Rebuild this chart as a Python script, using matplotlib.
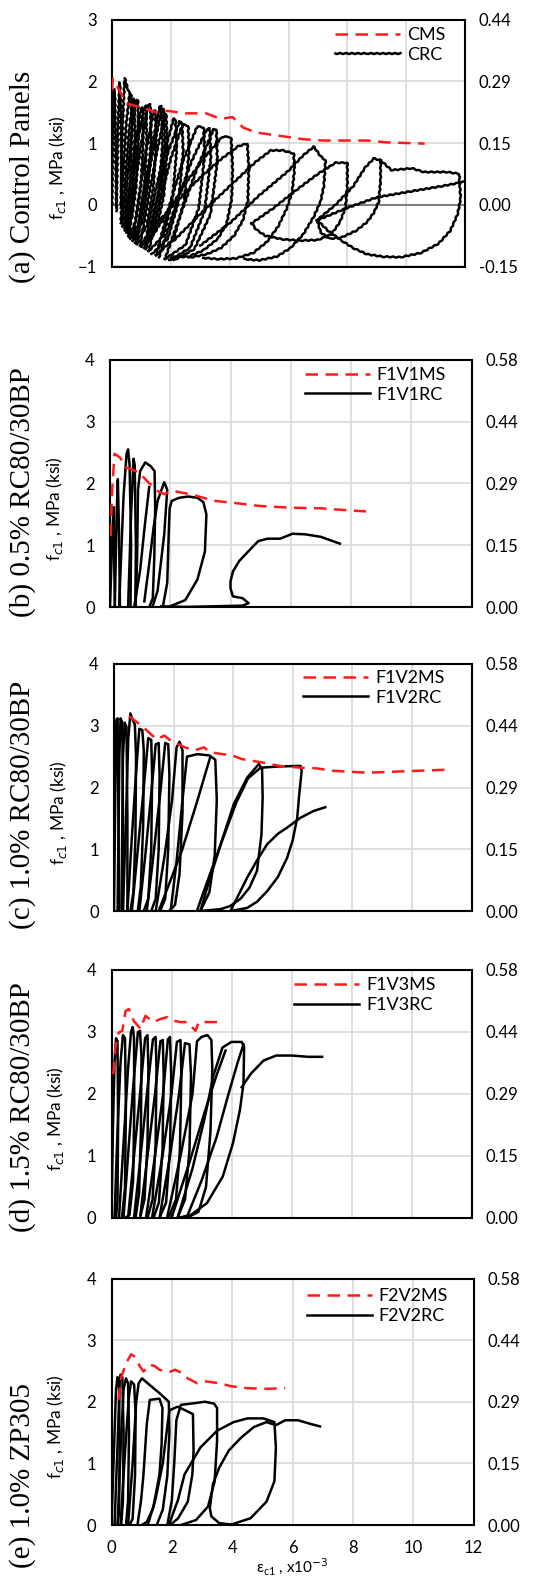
import numpy as np
import matplotlib
matplotlib.use('Agg')
import matplotlib.pyplot as plt

plt.rcParams['font.family'] = ['Lato', 'DejaVu Sans']

# axis ticks (strain in x10^-3, stress in MPa) and the ksi labels of the right axis
x_ticks = [0, 2, 4, 6, 8, 10, 12]
x_labels = ['0', '2', '4', '6', '8', '10', '12']
mpa_ticks_a = [-1, 0, 1, 2, 3]
ksi_labels_a = ['-0.15', '0.00', '0.15', '0.29', '0.44']
mpa_ticks = [0, 1, 2, 3, 4]
ksi_labels = ['0.00', '0.15', '0.29', '0.44', '0.58']

panel_titles = ['(a) Control Panels', '(b) 0.5% RC80/30BP', '(c) 1.0% RC80/30BP',
                '(d) 1.5% RC80/30BP', '(e) 1.0% ZP305']
ms_names = ['CMS', 'F1V1MS', 'F1V2MS', 'F1V3MS', 'F2V2MS']
rc_names = ['CRC', 'F1V1RC', 'F1V2RC', 'F1V3RC', 'F2V2RC']

# ---------------- (a) control panels ----------------
cms_x = [0.0, 0.03, 0.5, 0.96, 1.5, 1.9, 2.5, 3.2, 3.7, 4.1, 4.46, 4.9, 5.65, 6.52, 7.17,
         8.03, 8.68, 9.33, 10.63]
cms_y = [1.85, 2.04, 1.64, 1.58, 1.5, 1.52, 1.48, 1.48, 1.39, 1.42, 1.25, 1.17, 1.12, 1.06,
         1.04, 1.04, 1.04, 1.01, 0.99]

crc_loops = [
    [(0.0, 0.0), (0.03, 1.2), (0.07, 1.87), (0.1, 1.7), (0.13, 0.6), (0.15, -0.05), (0.17, -0.1)],
    [(0.15, -0.05), (0.2, 1.2), (0.26, 1.98), (0.3, 1.6), (0.32, 0.5), (0.33, -0.08)],
    [(0.3, -0.05), (0.36, 1.3), (0.43, 2.05), (0.55, 1.85), (0.66, 1.76)],
    [(0.3, -0.3), (0.38, 0.5), (0.48, 1.3), (0.6, 1.8), (0.66, 1.76), (0.68, 1.2), (0.62, 0.4),
     (0.52, -0.1), (0.42, -0.38)],
    [(0.35, -0.35), (0.45, 0.4), (0.58, 1.2), (0.72, 1.72), (0.76, 1.7), (0.78, 1.1), (0.7, 0.3),
     (0.58, -0.2), (0.45, -0.42)],
    [(0.42, -0.38), (0.52, 0.4), (0.66, 1.2), (0.82, 1.7), (0.88, 1.68), (0.9, 1.1), (0.82, 0.3),
     (0.68, -0.2), (0.5, -0.45)],
    [(0.5, -0.45), (0.62, 0.3), (0.8, 1.0), (0.98, 1.55), (1.04, 1.57), (1.06, 1.0), (0.98, 0.3),
     (0.82, -0.25), (0.58, -0.52)],
    [(0.55, -0.5), (0.7, 0.3), (0.9, 1.1), (1.1, 1.58), (1.16, 1.6), (1.18, 1.0), (1.1, 0.3),
     (0.92, -0.3), (0.62, -0.55)],
    [(0.58, -0.52), (0.75, 0.2), (0.98, 0.95), (1.22, 1.6), (1.3, 1.63), (1.33, 1.1), (1.24, 0.35),
     (1.05, -0.25), (0.7, -0.58)],
    [(0.7, -0.58), (0.9, 0.1), (1.15, 0.85), (1.42, 1.52), (1.47, 1.52), (1.5, 1.0), (1.4, 0.25),
     (1.18, -0.35), (0.8, -0.62)],
    [(0.8, -0.62), (1.02, 0.05), (1.32, 0.85), (1.62, 1.58), (1.68, 1.6), (1.72, 1.0), (1.6, 0.2),
     (1.35, -0.4), (0.95, -0.66)],
    [(0.85, -0.64), (1.1, 0.1), (1.4, 0.9), (1.7, 1.55), (1.76, 1.55), (1.8, 1.0), (1.68, 0.2),
     (1.42, -0.42), (1.0, -0.68)],
    [(0.95, -0.66), (1.2, 0.0), (1.5, 0.8), (1.8, 1.47), (1.84, 1.47), (1.88, 0.95), (1.76, 0.15),
     (1.5, -0.42), (1.1, -0.7)],
    [(1.1, -0.7), (1.38, 0.0), (1.75, 0.8), (2.1, 1.4), (2.16, 1.38), (2.2, 0.9), (2.06, 0.1),
     (1.75, -0.5), (1.25, -0.75)],
    [(1.15, -0.72), (1.5, 0.05), (1.9, 0.85), (2.3, 1.35), (2.38, 1.33), (2.42, 0.85), (2.26, 0.05),
     (1.9, -0.55), (1.35, -0.8)],
    [(1.25, -0.75), (1.6, 0.0), (2.0, 0.75), (2.4, 1.3), (2.59, 1.28), (2.62, 0.85), (2.45, 0.05),
     (2.1, -0.55), (1.5, -0.82)],
    [(1.5, -0.82), (1.9, -0.1), (2.4, 0.7), (2.9, 1.27), (3.12, 1.25), (3.15, 0.8), (2.95, -0.05),
     (2.5, -0.65), (1.8, -0.88)],
    [(1.6, -0.85), (2.1, -0.1), (2.7, 0.7), (3.2, 1.2), (3.32, 1.24), (3.36, 0.75), (3.15, -0.1),
     (2.65, -0.7), (1.95, -0.9)],
    [(1.8, -0.88), (2.3, -0.2), (2.9, 0.6), (3.45, 1.22), (3.55, 1.22), (3.58, 0.7), (3.35, -0.15),
     (2.8, -0.72), (2.1, -0.9)],
    [(1.2, -0.6), (1.8, -0.2), (2.5, 0.35), (3.2, 0.8), (3.75, 1.1), (3.98, 1.1), (4.05, 1.08),
     (4.1, 0.6), (4.07, 0.1), (3.9, -0.3), (3.6, -0.55), (3.1, -0.74), (2.6, -0.84), (2.0, -0.85)],
    [(1.2, -0.47), (2.0, -0.05), (2.8, 0.35), (3.6, 0.7), (4.3, 0.95), (4.6, 0.99), (4.65, 0.6),
     (4.62, 0.07), (4.45, -0.25), (4.15, -0.5), (3.7, -0.7), (3.23, -0.8), (2.6, -0.86)],
    [(2.1, -0.58), (3.0, -0.15), (4.0, 0.3), (4.9, 0.7), (5.4, 0.88), (5.8, 0.88), (6.18, 0.83),
     (6.2, 0.55), (6.12, 0.2), (5.95, -0.05), (5.65, -0.35), (5.27, -0.6), (4.8, -0.78),
     (4.2, -0.87), (3.6, -0.88), (3.1, -0.86)],
    [(3.0, -0.66), (4.0, -0.3), (5.0, 0.15), (6.0, 0.55), (6.5, 0.8), (6.86, 0.94), (7.1, 0.78),
     (7.26, 0.72), (7.2, 0.3), (7.09, 0.05), (6.85, -0.2), (6.5, -0.48), (6.07, -0.7),
     (5.6, -0.84), (5.0, -0.9), (4.5, -0.88)],
    [(4.75, -0.3), (5.5, -0.05), (6.3, 0.25), (7.0, 0.5), (7.6, 0.68), (8.0, 0.68), (8.0, 0.3),
     (7.94, -0.04), (7.75, -0.28), (7.45, -0.48), (7.0, -0.57), (6.4, -0.58), (5.8, -0.56),
     (5.2, -0.5), (4.9, -0.4), (4.75, -0.3)],
    [(6.97, -0.25), (7.6, 0.0), (8.2, 0.3), (8.6, 0.6), (8.9, 0.75), (9.13, 0.72), (9.5, 0.56),
     (10.2, 0.59), (10.6, 0.53), (11.4, 0.53), (11.8, 0.5), (11.85, 0.1), (11.75, -0.15),
     (11.5, -0.42), (11.1, -0.63), (10.5, -0.78), (9.81, -0.85), (9.2, -0.84), (8.66, -0.8),
     (8.2, -0.7), (7.8, -0.58), (7.32, -0.41), (6.98, -0.25)],
    [(9.13, 0.72), (9.13, 0.4), (9.07, 0.05), (8.9, -0.13), (8.67, -0.28), (8.3, -0.42),
     (7.8, -0.53), (7.4, -0.55), (7.1, -0.45), (6.97, -0.25)],
    [(6.98, -0.25), (8.0, -0.05), (9.0, 0.12), (10.2, 0.22), (11.2, 0.3), (11.96, 0.37)],
]

# ---------------- (b) 0.5% RC80/30BP ----------------
f1v1ms_x = [0.02, 0.07, 0.15, 0.33, 0.54, 0.96, 1.27, 1.58, 1.79, 2.1, 2.73, 3.46, 4.08, 4.92,
            5.96, 7.0, 7.83, 8.5]
f1v1ms_y = [1.15, 1.88, 2.48, 2.42, 2.26, 2.18, 2.02, 1.88, 1.83, 1.88, 1.82, 1.72, 1.69, 1.64,
            1.61, 1.6, 1.57, 1.55]

f1v1rc_loops = [
    [(0.0, 0.0), (0.08, 1.2), (0.12, 1.62), (0.14, 0.8), (0.16, 0.0)],
    [(0.16, 0.0), (0.22, 1.5), (0.26, 2.07), (0.3, 1.2), (0.33, 0.0)],
    [(0.3, 0.0), (0.45, 1.8), (0.55, 2.48), (0.6, 2.55), (0.65, 2.3), (0.7, 1.0), (0.68, 0.0)],
    [(0.6, 0.0), (0.7, 1.5), (0.78, 2.4), (0.82, 2.3), (0.86, 1.0), (0.84, 0.05)],
    [(0.85, 0.0), (0.9, 0.8), (0.93, 1.9), (1.0, 2.2), (1.17, 2.34), (1.35, 2.28), (1.48, 2.2),
     (1.5, 1.6), (1.47, 0.8), (1.42, 0.15), (1.3, 0.0)],
    [(0.8, 0.0), (1.0, 0.6), (1.15, 1.3), (1.3, 1.94)],
    [(1.14, 0.1), (1.3, 0.7), (1.45, 1.3), (1.58, 1.72), (1.8, 2.02), (1.9, 1.9), (1.8, 1.18),
     (1.58, 0.27), (1.41, 0.01)],
    [(1.75, 0.0), (1.9, 0.4), (1.95, 1.2), (1.98, 1.6), (2.05, 1.72), (2.3, 1.77), (2.6, 1.79),
     (2.9, 1.77), (3.1, 1.7), (3.2, 1.5), (3.15, 0.9), (2.9, 0.45), (2.5, 0.12), (1.9, 0.0)],
    [(1.7, 0.02), (2.5, 0.01), (3.5, 0.02), (4.4, 0.03), (4.6, 0.07), (4.4, 0.15), (4.08, 0.18),
     (4.0, 0.31), (4.0, 0.42), (4.08, 0.58), (4.29, 0.75), (4.6, 0.91), (4.92, 1.07), (5.23, 1.11),
     (5.65, 1.11), (6.06, 1.19), (6.48, 1.18), (7.0, 1.14), (7.63, 1.03)],
]

# ---------------- (c) 1.0% RC80/30BP ----------------
f1v2ms_x = [0.5, 0.58, 0.79, 1.0, 1.22, 1.43, 1.69, 1.9, 2.38, 2.7, 3.02, 3.23, 3.65, 3.97, 4.29,
            4.92, 5.56, 6.3, 6.8, 7.37, 8.49, 9.6, 11.28]
f1v2ms_y = [3.15, 3.13, 3.05, 2.97, 2.87, 2.78, 2.84, 2.76, 2.65, 2.6, 2.65, 2.57, 2.54, 2.52, 2.46,
            2.41, 2.35, 2.32, 2.31, 2.27, 2.24, 2.26, 2.29]

f1v2rc_loops = [
    [(0.0, 0.0), (0.05, 2.2), (0.08, 3.1), (0.12, 3.12), (0.15, 1.5), (0.17, 0.0)],
    [(0.12, 0.0), (0.18, 2.5), (0.22, 3.12), (0.28, 3.05), (0.3, 1.5), (0.3, 0.0)],
    [(0.25, 0.0), (0.3, 2.5), (0.36, 3.05), (0.42, 2.98), (0.45, 1.5), (0.45, 0.0)],
    [(0.3, 0.0), (0.4, 1.5), (0.48, 2.8), (0.55, 3.2), (0.62, 3.1), (0.7, 3.02), (0.74, 2.5),
     (0.72, 1.2), (0.65, 0.3), (0.55, 0.0)],
    [(0.45, 0.0), (0.6, 1.2), (0.75, 2.3), (0.85, 2.95), (0.95, 2.93), (1.0, 2.6), (0.98, 1.4),
     (0.9, 0.4), (0.8, 0.0)],
    [(0.6, 0.0), (0.8, 1.0), (1.0, 2.0), (1.15, 2.8), (1.25, 2.77), (1.28, 2.2), (1.25, 1.0),
     (1.15, 0.2), (1.0, 0.0)],
    [(0.85, 0.0), (1.05, 0.9), (1.25, 1.9), (1.4, 2.7), (1.5, 2.72), (1.53, 2.2), (1.5, 1.0),
     (1.4, 0.2), (1.25, 0.0)],
    [(1.1, 0.0), (1.3, 0.8), (1.55, 1.9), (1.72, 2.72), (1.82, 2.7), (1.86, 2.2), (1.82, 1.0),
     (1.72, 0.2), (1.55, 0.0)],
    [(1.4, 0.0), (1.7, 0.9), (1.95, 1.8), (2.1, 2.65), (2.2, 2.74), (2.3, 2.6), (2.3, 1.6),
     (2.2, 0.6), (2.05, 0.1), (1.85, 0.0)],
    [(1.9, 0.0), (2.1, 0.8), (2.3, 1.8), (2.45, 2.5), (2.8, 2.54), (3.2, 2.52), (3.4, 2.45),
     (3.45, 1.8), (3.38, 0.9), (3.2, 0.3), (2.9, 0.0)],
    [(1.5, 0.0), (1.9, 0.5), (2.28, 0.98), (2.8, 1.79), (3.05, 2.2), (3.23, 2.49)],
    [(2.79, 0.01), (3.0, 0.3), (3.3, 0.7), (3.58, 1.08), (4.02, 1.73), (4.47, 2.16), (4.86, 2.38),
     (4.97, 2.3), (4.99, 1.84), (4.95, 1.24), (4.8, 0.65), (4.55, 0.38), (4.25, 0.2), (3.9, 0.08),
     (3.58, 0.03), (2.9, 0.0)],
    [(2.9, 0.0), (3.2, 0.5), (3.6, 1.1), (4.1, 1.75), (4.5, 2.15), (4.92, 2.32), (5.5, 2.34),
     (6.26, 2.35), (6.3, 2.27), (6.22, 1.9), (6.15, 1.51), (6.0, 1.15), (5.81, 0.86), (5.5, 0.55),
     (5.14, 0.32), (4.8, 0.15), (4.47, 0.05), (3.91, 0.0)],
    [(3.91, 0.0), (4.2, 0.28), (4.47, 0.54), (4.8, 0.82), (5.14, 1.08), (5.5, 1.25), (5.81, 1.35),
     (6.26, 1.51), (6.7, 1.62), (7.09, 1.68)],
]

# ---------------- (d) 1.5% RC80/30BP ----------------
f1v3ms_x = [0.06, 0.13, 0.24, 0.36, 0.47, 0.58, 0.74, 0.97, 1.13, 1.41, 1.63, 1.86, 2.08, 2.3,
            2.52, 2.8, 2.91, 3.24, 3.69]
f1v3ms_y = [2.32, 2.75, 2.99, 3.02, 3.34, 3.37, 3.18, 3.05, 3.26, 3.16, 3.21, 3.24, 3.18, 3.16,
            3.16, 3.02, 3.16, 3.16, 3.16]

f1v3rc_loops = [
    [(0.0, 0.0), (0.05, 1.5), (0.1, 2.5), (0.15, 2.9), (0.2, 2.85), (0.22, 1.5), (0.2, 0.3), (0.15, 0.0)],
    [(0.1, 0.0), (0.2, 1.4), (0.3, 2.5), (0.38, 2.95), (0.45, 2.9), (0.48, 1.8), (0.45, 0.5), (0.35, 0.0)],
    [(0.25, 0.0), (0.4, 1.2), (0.55, 2.4), (0.65, 3.0), (0.71, 3.08), (0.75, 2.9), (0.76, 1.8),
     (0.72, 0.6), (0.6, 0.05), (0.45, 0.0)],
    [(0.4, 0.0), (0.55, 1.0), (0.72, 2.1), (0.88, 3.0), (0.95, 3.02), (1.0, 2.6), (0.98, 1.4),
     (0.92, 0.4), (0.8, 0.0)],
    [(0.55, 0.0), (0.75, 1.0), (0.95, 2.0), (1.12, 2.9), (1.2, 2.95), (1.23, 2.4), (1.2, 1.2),
     (1.1, 0.3), (0.95, 0.0)],
    [(0.75, 0.0), (0.95, 0.9), (1.18, 2.0), (1.38, 2.88), (1.47, 2.92), (1.5, 2.4), (1.47, 1.2),
     (1.37, 0.3), (1.2, 0.0)],
    [(0.95, 0.0), (1.2, 1.0), (1.45, 2.0), (1.63, 2.85), (1.71, 2.87), (1.74, 2.3), (1.7, 1.1),
     (1.58, 0.25), (1.4, 0.0)],
    [(1.15, 0.0), (1.45, 1.0), (1.72, 2.0), (1.88, 2.88), (1.95, 2.92), (1.99, 2.3), (1.95, 1.1),
     (1.82, 0.25), (1.6, 0.0)],
    [(1.35, 0.0), (1.7, 1.0), (2.0, 2.0), (2.18, 2.84), (2.3, 2.87), (2.33, 2.3), (2.28, 1.1),
     (2.15, 0.3), (1.9, 0.0)],
    [(1.6, 0.0), (1.95, 1.0), (2.25, 2.0), (2.45, 2.82), (2.6, 2.8), (2.65, 2.3), (2.6, 1.1),
     (2.45, 0.3), (2.2, 0.0)],
    [(1.85, 0.0), (2.3, 1.0), (2.7, 2.0), (2.85, 2.85), (3.0, 2.92), (3.2, 2.95), (3.33, 2.87),
     (3.36, 2.4), (3.3, 1.4), (3.15, 0.5), (2.9, 0.1), (2.5, 0.0)],
    [(2.2, 0.0), (2.7, 0.8), (3.1, 1.6), (3.4, 2.3), (3.7, 2.75), (4.0, 2.84), (4.34, 2.84),
     (4.42, 2.76), (4.4, 2.17), (4.28, 1.74), (4.05, 1.21), (3.71, 0.67), (3.18, 0.24),
     (2.65, 0.05), (2.2, 0.0)],
    [(2.5, 0.0), (3.0, 0.6), (3.5, 1.3), (3.9, 2.0), (4.2, 2.5), (4.4, 2.8)],
    [(2.0, 0.0), (2.6, 0.9), (3.1, 1.7), (3.5, 2.3), (3.8, 2.7)],
    [(4.34, 2.11), (4.65, 2.33), (5.07, 2.54), (5.49, 2.62), (6.02, 2.62), (6.55, 2.6), (7.02, 2.6)],
]

# ---------------- (e) 1.0% ZP305 ----------------
f2v2ms_x = [0.23, 0.33, 0.49, 0.65, 0.75, 0.91, 1.06, 1.27, 1.43, 1.59, 1.8, 1.96, 2.11, 2.32,
            2.53, 2.84, 3.15, 3.57, 3.99, 4.51, 5.14, 5.76]
f2v2ms_y = [2.03, 2.41, 2.63, 2.77, 2.74, 2.6, 2.49, 2.6, 2.58, 2.52, 2.49, 2.49, 2.52, 2.47,
            2.38, 2.3, 2.33, 2.3, 2.25, 2.22, 2.21, 2.22]

f2v2rc_loops = [
    [(0.0, 0.0), (0.08, 1.2), (0.15, 2.2), (0.2, 2.4), (0.25, 2.3), (0.27, 1.2), (0.25, 0.2), (0.2, 0.0)],
    [(0.1, 0.0), (0.2, 1.3), (0.27, 2.3), (0.3, 2.44), (0.36, 2.4), (0.4, 1.5), (0.38, 0.4), (0.32, 0.0)],
    [(0.2, 0.0), (0.3, 1.2), (0.4, 2.2), (0.48, 2.38), (0.55, 2.3), (0.58, 1.5), (0.55, 0.4), (0.48, 0.0)],
    [(0.3, 0.0), (0.45, 1.2), (0.58, 2.1), (0.65, 2.33), (0.75, 2.28), (0.8, 1.8), (0.78, 0.8),
     (0.7, 0.1), (0.6, 0.0)],
    [(0.55, 0.0), (0.7, 1.0), (0.82, 2.0), (0.9, 2.3), (1.01, 2.38), (1.27, 2.27), (1.59, 2.14),
     (1.9, 2.0), (1.92, 1.5), (1.85, 0.8), (1.7, 0.25), (1.5, 0.0)],
    [(0.86, 0.0), (0.98, 0.4), (1.06, 0.82), (1.17, 1.64), (1.27, 2.03), (1.59, 2.05), (1.69, 1.9),
     (1.66, 1.3), (1.59, 0.82), (1.38, 0.27), (1.17, 0.05), (1.0, 0.0)],
    [(1.2, 0.0), (1.45, 0.4), (1.7, 1.0), (1.85, 1.6), (1.92, 1.86), (2.19, 1.92), (2.45, 1.86),
     (2.7, 1.8), (2.72, 1.2), (2.68, 0.82), (2.53, 0.38), (2.21, 0.11), (1.95, 0.0)],
    [(1.85, 0.0), (2.0, 0.4), (2.08, 1.0), (2.15, 1.7), (2.3, 1.95), (2.8, 1.98), (3.1, 2.0),
     (3.4, 1.97), (3.5, 1.9), (3.5, 1.37), (3.42, 0.71), (3.2, 0.3), (2.8, 0.08), (2.3, 0.0)],
    [(1.9, 0.0), (2.2, 0.4), (2.42, 0.82), (2.95, 1.26), (3.5, 1.53), (4.05, 1.67), (4.51, 1.73),
     (5.03, 1.73), (5.4, 1.67), (5.45, 1.26), (5.4, 0.71), (5.14, 0.38), (4.61, 0.11), (3.99, 0.01),
     (3.57, 0.0)],
    [(4.09, 0.0), (3.57, 0.03), (3.31, 0.14), (3.26, 0.27), (3.36, 0.66), (3.57, 0.93), (3.89, 1.21),
     (4.3, 1.42), (4.72, 1.59), (5.14, 1.67), (5.45, 1.62), (5.76, 1.7), (6.18, 1.7), (6.6, 1.64),
     (6.91, 1.6)],
]

ms_data = [(cms_x, cms_y), (f1v1ms_x, f1v1ms_y), (f1v2ms_x, f1v2ms_y), (f1v3ms_x, f1v3ms_y),
           (f2v2ms_x, f2v2ms_y)]
rc_data = [crc_loops, f1v1rc_loops, f1v2rc_loops, f1v3rc_loops, f2v2rc_loops]

# axes boxes in pixels (left, top, right, bottom) of the 551x1577 picture
W, H = 551, 1577
boxes = [(112, 19.5, 465, 266.5), (110, 359.5, 471.5, 607.5), (114, 664, 471.5, 911),
         (111.5, 970, 471.5, 1218), (111.5, 1278.5, 473.5, 1525)]
title_y = [177, 492, 805, 1107, 1475]
legend_anchor = [(0.945, 0.97), (0.93, 0.97), (0.925, 0.975), (0.9, 0.97), (0.93, 0.96)]

fig = plt.figure(figsize=(W / 100, H / 100), dpi=100)

for i in range(5):
    l, t, r, b = boxes[i]
    ax = fig.add_axes([l / W, 1 - b / H, (r - l) / W, (b - t) / H])
    if i == 0:
        ticks, ksi = mpa_ticks_a, ksi_labels_a
    else:
        ticks, ksi = mpa_ticks, ksi_labels

    # black cyclic curve
    for k, loop in enumerate(rc_data[i]):
        xs = [p[0] for p in loop]
        ys = [p[1] for p in loop]
        ln, = ax.plot(xs, ys, color='black', lw=1.8, solid_joinstyle='round', zorder=3)
        if i == 0:
            ln.set_sketch_params(0.5, 6, 1)
        if k == 0:
            rc_line = ln
    # red monotonic curve
    ms_line, = ax.plot(ms_data[i][0], ms_data[i][1], color='#ff1a1a', lw=1.8,
                       dashes=(5, 3), zorder=4)

    ax.set_xlim(0, 12)
    ax.set_ylim(ticks[0], ticks[-1])
    ax.set_xticks(x_ticks)
    ax.set_yticks(ticks)
    ax.grid(True, color='#d9d9d9', lw=1.2, zorder=0)
    ax.set_axisbelow(True)
    if i == 0:
        ax.axhline(0, color='#808080', lw=1.5, zorder=2)
    for s in ax.spines.values():
        s.set_linewidth(1.5)
        s.set_color('black')
    ax.tick_params(length=0, labelsize=12, pad=11)
    if i == 4:
        ax.set_xticklabels(x_labels)
        ax.tick_params(axis='x', pad=11)
        ax.set_xlabel(r'$\mathregular{\epsilon_{c1}}$ , x10$^{-3}$', fontsize=11, labelpad=0)
    else:
        ax.set_xticklabels([])
    ax.set_ylabel(r'f$_{c1}$ , MPa (ksi)', fontsize=12.5)
    ax.yaxis.set_label_coords(-0.125, 0.4)

    ax2 = ax.twinx()
    ax2.set_ylim(ticks[0], ticks[-1])
    ax2.set_yticks(ticks)
    ax2.set_yticklabels(ksi)
    ax2.tick_params(length=0, labelsize=12, pad=10)
    for s in ax2.spines.values():
        s.set_visible(False)

    ax.legend([ms_line, rc_line], [ms_names[i], rc_names[i]], loc='upper right',
              bbox_to_anchor=legend_anchor[i], frameon=False, fontsize=13, handlelength=3.6,
              labelspacing=0.2, handletextpad=0.4, borderaxespad=0, borderpad=0)

    fig.text(23 / W, 1 - title_y[i] / H, panel_titles[i], rotation=90, ha='center', va='center',
             fontsize=21, family='Liberation Serif')

fig.savefig('out.png', dpi=100)
